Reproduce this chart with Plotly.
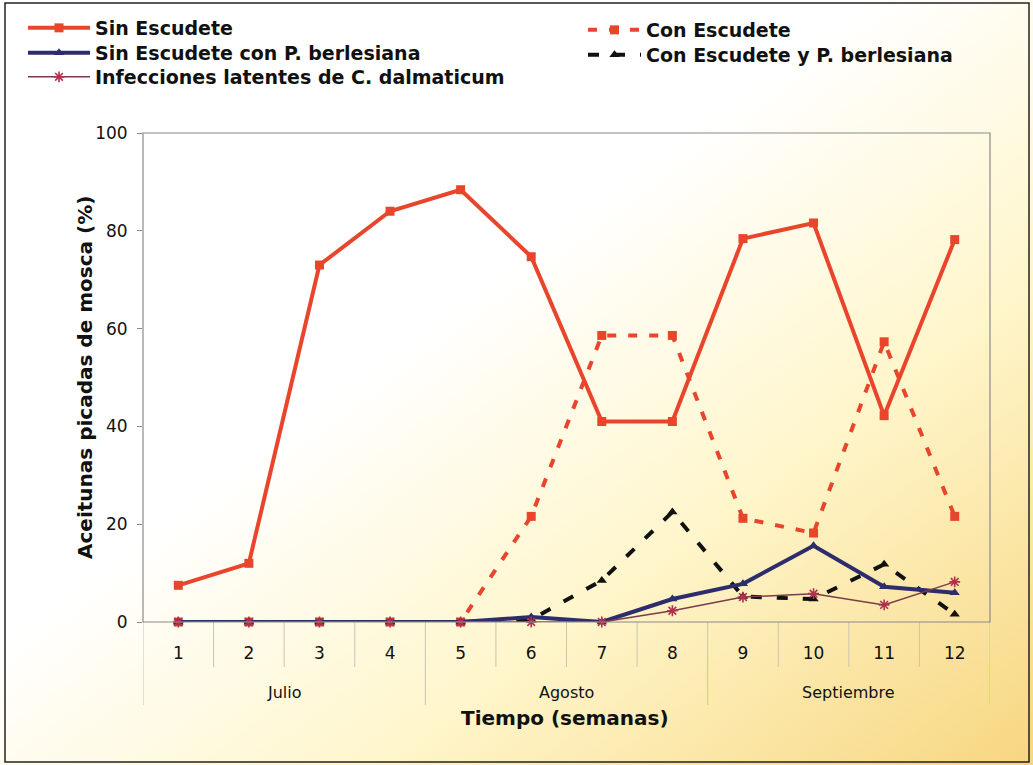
import base64
import plotly.graph_objects as go

weeks = list(range(1, 13))
week_labels = [str(w) for w in weeks]
months = ["Julio", "Agosto", "Septiembre"]

sin_escudete = [7.5, 12, 73, 84, 88.4, 74.7, 41, 41, 78.4, 81.6, 42.2, 78.2]
con_escudete = [0, 0, 0, 0, 0, 21.6, 58.6, 58.6, 21.2, 18.2, 57.3, 21.6]
sin_esc_pb = [0, 0, 0, 0, 0, 1, 0, 4.7, 7.8, 15.6, 7.2, 6.0]
con_esc_pb = [0, 0, 0, 0, 0, 0.5, 8.5, 22.5, 5.2, 4.7, 11.8, 1.6]
latentes = [0, 0, 0, 0, 0, 0, 0, 2.3, 5.1, 5.8, 3.5, 8.2]

RED = "#E9452C"
NAVY = "#2D2C6C"
BLACK = "#111111"
BROWN = "#7A3B4A"

W, H = 1033, 765
L, R, T, B = 143, 43, 133, 143
PW, PH = W - L - R, H - T - B


def px_x(p):
    return (p - L) / PW


def px_y(p):
    return (H - B - p) / PH


fig = go.Figure()

fig.add_trace(go.Scatter(
    x=weeks, y=sin_escudete, name="Sin Escudete", mode="lines+markers",
    line=dict(color=RED, width=4), marker=dict(symbol="square", size=9, color=RED),
    legend="legend", cliponaxis=False))
fig.add_trace(go.Scatter(
    x=weeks, y=con_escudete, name="Con Escudete", mode="lines+markers",
    line=dict(color=RED, width=4, dash="9px,12px"),
    marker=dict(symbol="square", size=9, color=RED),
    legend="legend4", cliponaxis=False))
fig.add_trace(go.Scatter(
    x=weeks, y=con_esc_pb, name="Con Escudete y P. berlesiana", mode="lines+markers",
    line=dict(color=BLACK, width=4, dash="11px,15px"),
    marker=dict(symbol="triangle-up", size=9, color=BLACK),
    legend="legend5", cliponaxis=False))
fig.add_trace(go.Scatter(
    x=weeks, y=sin_esc_pb, name="Sin Escudete con P. berlesiana", mode="lines+markers",
    line=dict(color=NAVY, width=4),
    marker=dict(symbol="triangle-up", size=9, color=NAVY),
    legend="legend2", cliponaxis=False))
fig.add_trace(go.Scatter(
    x=weeks, y=latentes, name="Infecciones latentes de C. dalmaticum", mode="lines+markers",
    line=dict(color=BROWN, width=1.5),
    marker=dict(symbol="asterisk", size=9, line=dict(color="#B0304F", width=1.6)),
    legend="legend3", cliponaxis=False))

# gradient background image
svg = (
    f"<svg xmlns='http://www.w3.org/2000/svg' width='{W}' height='{H}' preserveAspectRatio='none'>"
    "<defs><linearGradient id='g' x1='0' y1='0' x2='1' y2='1'>"
    "<stop offset='0' stop-color='#ffffff'/>"
    "<stop offset='0.42' stop-color='#ffffff'/>"
    "<stop offset='0.68' stop-color='#fff6cc'/>"
    "<stop offset='1' stop-color='#f7d680'/>"
    "</linearGradient></defs>"
    f"<rect width='{W}' height='{H}' fill='url(#g)'/></svg>"
)
src = "data:image/svg+xml;base64," + base64.b64encode(svg.encode()).decode()

shapes = []
# category separators below the axis
for k in range(13):
    xv = k + 0.5
    long_line = k % 4 == 0
    shapes.append(dict(type="line", xref="x", yref="paper", x0=xv, x1=xv,
                       y0=0, y1=px_y(705 if long_line else 667),
                       line=dict(color="#C9C4B0", width=1)))
# plot box
shapes.append(dict(type="rect", xref="paper", yref="paper", x0=0, x1=1, y0=0, y1=1,
                   line=dict(color="#8A8A8A", width=1.2), fillcolor="rgba(0,0,0,0)"))
# outer frame
shapes.append(dict(type="rect", xref="paper", yref="paper",
                   x0=px_x(5), x1=px_x(1029), y0=px_y(762), y1=px_y(3),
                   line=dict(color="#222222", width=1.5), fillcolor="rgba(0,0,0,0)"))

FONT = "DejaVu Sans, Liberation Sans, Arial"

annotations = []
for i, m in enumerate(months):
    annotations.append(dict(x=2.5 + 4 * i, y=px_y(692), xref="x", yref="paper",
                            text=m, showarrow=False, xanchor="center", yanchor="middle",
                            font=dict(family=FONT, size=16, color="#111111")))
annotations.append(dict(x=px_x(565), y=px_y(732), xref="paper", yref="paper",
                        text="Tiempo (semanas)", showarrow=False,
                        font=dict(family=FONT, size=20, color="#111111", weight="bold")))
annotations.append(dict(x=px_x(71), y=px_y(378), xref="paper", yref="paper", textangle=-90,
                        text="Aceitunas picadas de mosca (%)", showarrow=False,
                        font=dict(family=FONT, size=20, color="#111111", weight="bold")))

legend_font = dict(family=FONT, size=19, color="#111111", weight="bold")


def leg(xpx, ypx, iw):
    return dict(x=px_x(xpx), y=px_y(ypx), xanchor="left", yanchor="middle",
                bgcolor="rgba(0,0,0,0)", font=legend_font, itemwidth=iw,
                borderwidth=0, tracegroupgap=0)


fig.update_layout(
    width=W, height=H,
    margin=dict(l=L, r=R, t=T, b=B, autoexpand=False),
    paper_bgcolor="white",
    plot_bgcolor="white",
    images=[dict(source=src, xref="paper", yref="paper", x=px_x(0), y=px_y(0),
                 sizex=W / PW, sizey=H / PH, sizing="stretch", xanchor="left",
                 yanchor="top", layer="below")],
    shapes=shapes,
    annotations=annotations,
    showlegend=True,
    legend=leg(23, 28, 62),
    legend2=leg(23, 53, 62),
    legend3=leg(23, 77, 62),
    legend4=leg(583, 30, 53),
    legend5=leg(583, 55, 53),
    xaxis=dict(range=[0.5, 12.5], tickvals=weeks, ticktext=week_labels,
               showgrid=False, zeroline=False, showline=False, ticks="",
               ticklabelstandoff=19,
               tickfont=dict(family=FONT, size=17, color="#111111")),
    yaxis=dict(range=[0, 100], tickvals=[0, 20, 40, 60, 80, 100],
               showgrid=False, zeroline=False, showline=False,
               ticks="outside", ticklen=5, tickcolor="#8A8A8A",
               ticklabelstandoff=6,
               tickfont=dict(family=FONT, size=17, color="#111111")),
)

fig.write_html("out.html", config={"displayModeBar": False},
               post_script="document.body.style.margin='0px';document.body.style.overflow='hidden';")
